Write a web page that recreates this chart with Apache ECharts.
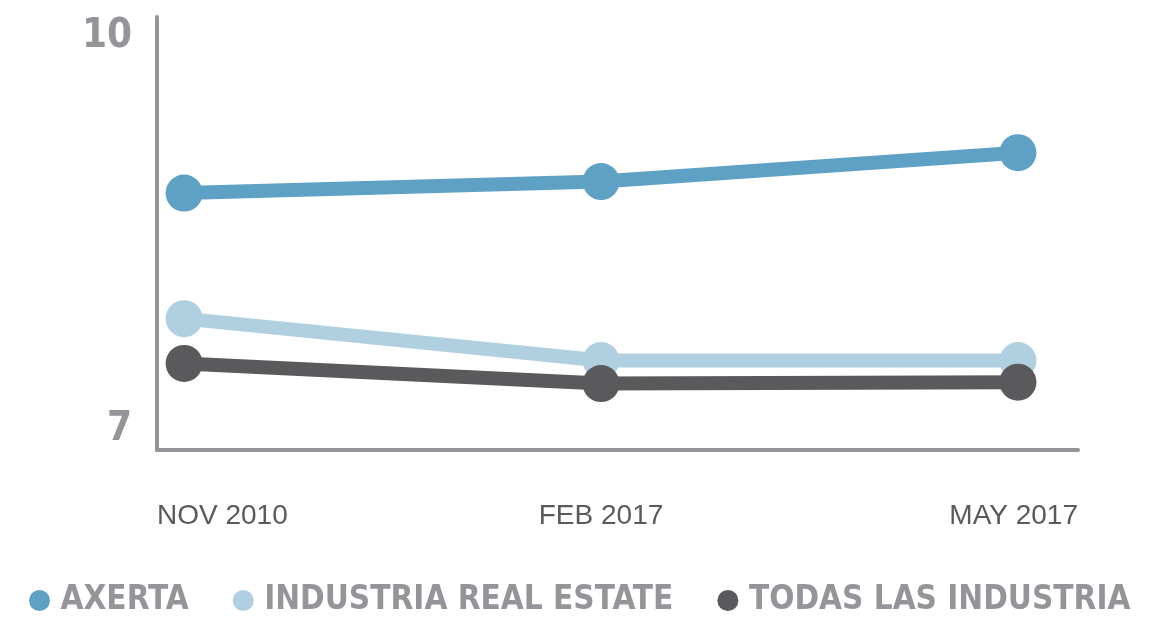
<!DOCTYPE html>
<html>
<head>
<meta charset="utf-8">
<script src="https://cdn.jsdelivr.net/npm/echarts@6/dist/echarts.min.js"></script>
<style>
  html, body { margin: 0; padding: 0; background: #fff; }
  #main { width: 1162px; height: 624px; }
</style>
</head>
<body>
<div id="main"></div>
<script>
// positions on the x axis (0, 1, 2) with their date labels
var dates = ['NOV 2010', 'FEB 2017', 'MAY 2017'];
var yTicks = [7, 10];

var axerta = [8.78, 8.86, 9.06];
var realEstate = [7.91, 7.62, 7.62];
var todas = [7.60, 7.46, 7.47];

var names = ['AXERTA', 'INDUSTRIA REAL ESTATE', 'TODAS LAS INDUSTRIA'];
var colors = ['#5fa1c5', '#b0cfe0', '#5a5a5c'];

var xMin = -0.065, xMax = 2.144;

function pairs(arr) {
    return arr.map(function (v, i) { return [i, v]; });
}

var narrow = "'Liberation Sans Narrow', 'DejaVu Sans Condensed', sans-serif";

var myChart = echarts.init(document.getElementById('main'));

myChart.setOption({
    animation: false,
    color: colors,
    grid: { left: 157, right: 84, top: 17, bottom: 174 },
    legend: {
        left: 24,
        top: 579,
        icon: 'circle',
        itemWidth: 32,
        itemHeight: 21,
        itemGap: 44,
        data: names,
        textStyle: {
            color: '#939598',
            fontFamily: narrow,
            fontWeight: 'bold',
            fontSize: 33,
            padding: [8, 0, 0, 0]
        }
    },
    xAxis: {
        type: 'value',
        min: xMin,
        max: xMax,
        splitLine: { show: false },
        axisTick: { show: false },
        axisLine: { show: true, onZero: false, lineStyle: { color: '#939598', width: 4 } },
        axisLabel: {
            customValues: [xMin, 1, xMax],
            alignMinLabel: 'left',
            alignMaxLabel: 'right',
            margin: 52,
            color: '#5a5a5c',
            fontFamily: "'Liberation Sans', Arial, sans-serif",
            fontSize: 28,
            formatter: function (val) {
                if (val === xMin) return dates[0];
                if (val === xMax) return dates[2];
                return dates[1];
            }
        }
    },
    yAxis: {
        type: 'value',
        min: yTicks[0],
        max: yTicks[1],
        splitLine: { show: false },
        axisTick: { show: false },
        axisLine: { show: true, onZero: false, lineStyle: { color: '#939598', width: 4 } },
        axisLabel: {
            customValues: yTicks,
            verticalAlignMinLabel: 'bottom',
            verticalAlignMaxLabel: 'top',
            margin: 25,
            color: '#939598',
            fontFamily: narrow,
            fontWeight: 'bold',
            fontSize: 40
        }
    },
    series: [
        {
            name: names[0], type: 'line', data: pairs(axerta),
            symbol: 'circle', symbolSize: 37, lineStyle: { width: 14 }
        },
        {
            name: names[1], type: 'line', data: pairs(realEstate),
            symbol: 'circle', symbolSize: 37, lineStyle: { width: 14 }
        },
        {
            name: names[2], type: 'line', data: pairs(todas),
            symbol: 'circle', symbolSize: 37, lineStyle: { width: 14 }
        }
    ]
});
</script>
</body>
</html>
